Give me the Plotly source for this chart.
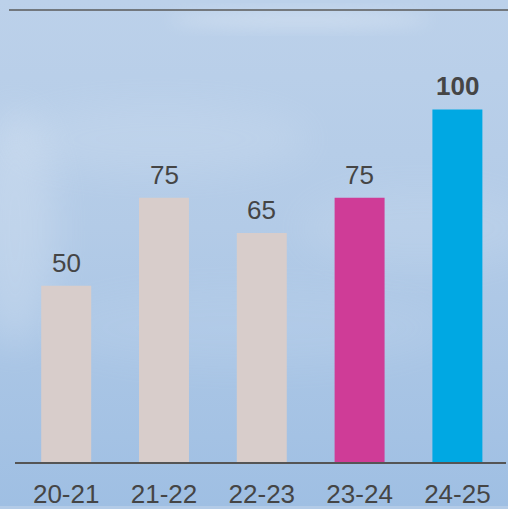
import base64
import plotly.graph_objects as go

# ---- data ----
categories = ["20-21", "21-22", "22-23", "23-24", "24-25"]
values = [50, 75, 65, 75, 100]
bar_colors = ["#d8cdcb", "#d8cdcb", "#d8cdcb", "#cf3c97", "#00a8e3"]
bold_flags = [False, False, False, False, True]

W, H = 508, 509

# sky-like background as an SVG gradient with soft clouds
svg = f"""<svg xmlns='http://www.w3.org/2000/svg' width='{W}' height='{H}' viewBox='0 0 {W} {H}'>
<defs>
<linearGradient id='g' x1='0' y1='0' x2='0' y2='1'>
<stop offset='0' stop-color='#bcd1ea'/>
<stop offset='0.45' stop-color='#b3cbe7'/>
<stop offset='1' stop-color='#9fbfe3'/>
</linearGradient>
<filter id='b' x='-50%' y='-50%' width='200%' height='200%'><feGaussianBlur stdDeviation='18'/></filter>
<filter id='b2' x='-50%' y='-50%' width='200%' height='200%'><feGaussianBlur stdDeviation='8'/></filter>
</defs>
<rect width='{W}' height='{H}' fill='url(#g)'/>
<ellipse cx='15' cy='230' rx='40' ry='120' fill='#ffffff' opacity='0.18' filter='url(#b)'/>
<ellipse cx='300' cy='20' rx='130' ry='8' fill='#ffffff' opacity='0.25' filter='url(#b2)'/>
<ellipse cx='160' cy='140' rx='150' ry='35' fill='#ffffff' opacity='0.10' filter='url(#b)'/>
<ellipse cx='420' cy='230' rx='120' ry='40' fill='#ffffff' opacity='0.08' filter='url(#b)'/>
<ellipse cx='250' cy='330' rx='200' ry='40' fill='#ffffff' opacity='0.06' filter='url(#b)'/>
</svg>"""
bg_src = "data:image/svg+xml;base64," + base64.b64encode(svg.encode()).decode()

fig = go.Figure(
    go.Bar(
        x=categories,
        y=values,
        marker=dict(color=bar_colors, line=dict(width=0)),
        width=0.511,
        hoverinfo="skip",
    )
)

for c, v, b in zip(categories, values, bold_flags):
    fig.add_annotation(
        x=c, y=v, xref="x", yref="y",
        text=f"<b>{v}</b>" if b else str(v),
        showarrow=False, yanchor="bottom", yshift=6,
        font=dict(family="Liberation Sans, Arial, sans-serif", size=26, color="#454545"),
    )

# top decorative rule
fig.add_shape(type="line", xref="paper", yref="paper",
              x0=9 / W, x1=1, y0=(H - 10) / H, y1=(H - 10) / H,
              line=dict(color="#5a5a5a", width=1.5))

fig.add_layout_image(dict(source=bg_src, xref="paper", yref="paper", x=0, y=1,
                          sizex=1, sizey=1, xanchor="left", yanchor="top",
                          sizing="stretch", layer="below"))

fig.update_layout(
    width=W, height=H,
    margin=dict(l=0, r=0, t=0, b=0),
    paper_bgcolor="#b3cbe7",
    plot_bgcolor="rgba(0,0,0,0)",
    showlegend=False,
    xaxis=dict(
        domain=[15 / W, 506 / W],
        range=[-0.5235, 4.497],
        showline=True, linecolor="#555555", linewidth=1.5,
        showgrid=False, zeroline=False, ticks="",
        tickfont=dict(family="Liberation Sans, Arial, sans-serif", size=26, color="#454545"),
        ticklabelstandoff=8,
    ),
    yaxis=dict(
        domain=[44 / H, (H - 10) / H],
        range=[0, 128.2],
        visible=False,
    ),
)

fig.write_html("out.html", config={"displayModeBar": False})

# remove the default page margin so the figure fills the window exactly
with open("out.html", "r", encoding="utf-8") as f:
    html = f.read()
html = html.replace("<head>", "<head><style>html,body{margin:0;padding:0;overflow:hidden;}</style>", 1)
with open("out.html", "w", encoding="utf-8") as f:
    f.write(html)
